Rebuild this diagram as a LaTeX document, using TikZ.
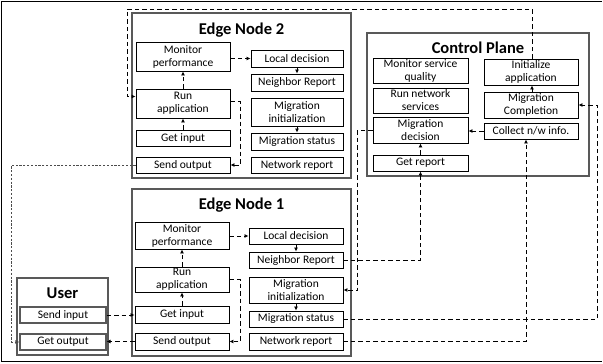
\documentclass[tikz,border=0pt]{standalone}
\usepackage{fontspec}
\setmainfont{Carlito}
\usetikzlibrary{arrows.meta}
\begin{document}
\begin{tikzpicture}[x=1pt,y=-1pt,
  container/.style={draw=black!65, line width=1.3pt},
  ucontainer/.style={draw=black!65, line width=1.3pt},
  box/.style={draw=black, line width=0.9pt, inner sep=0pt, align=center,
    font=\fontsize{11.5}{13}\selectfont},
  ubox/.style={box, draw=black!65, line width=1.1pt},
  ttl/.style={font=\fontsize{16.5}{18}\selectfont\bfseries, inner sep=0pt},
  flow/.style={line width=1pt, dash pattern=on 4.5pt off 3pt, -{Latex[length=4pt,width=4pt]}},
  thinflow/.style={line width=0.8pt, draw=black!70, dash pattern=on 2.2pt off 1.6pt, -{Latex[length=4pt,width=4pt]}}
]
\useasboundingbox (0,0) rectangle (603,364);
% outer frame (left, top, bottom)
\draw[line width=1pt] (602,1) -- (1,1) -- (1,361) -- (602,361);

% ===== Edge Node 2 =====
\node[container, minimum width=219pt, minimum height=165pt] (en2) at (241.5,95.5) {};
\node[ttl] (t2) at (241.5,30) {Edge Node 2};
\node[box, minimum width=94pt, minimum height=29pt] (mp2) at (183,56.5) {Monitor\\performance};
\node[box, minimum width=92pt, minimum height=17pt] (ld2) at (297,58.5) {Local decision};
\node[box, minimum width=92pt, minimum height=17pt] (nr2) at (297,82.5) {Neighbor Report};
\node[box, minimum width=94pt, minimum height=29pt] (ra2) at (183,103.5) {Run\\application};
\node[box, minimum width=92pt, minimum height=28pt] (mi2) at (297,112) {Migration\\initialization};
\node[box, minimum width=94pt, minimum height=16pt] (gi2) at (183,138) {Get input};
\node[box, minimum width=92pt, minimum height=17pt] (ms2) at (297,141.5) {Migration status};
\node[box, minimum width=94pt, minimum height=16pt] (so2) at (183,165) {Send output};
\node[box, minimum width=92pt, minimum height=16pt] (nw2) at (297,165) {Network report};

% ===== Edge Node 1 =====
\node[container, minimum width=219pt, minimum height=167pt] (en1) at (241.5,272.5) {};
\node[ttl] (t1) at (241.5,205) {Edge Node 1};
\node[box, minimum width=94pt, minimum height=27pt] (mp1) at (182,235.5) {Monitor\\performance};
\node[box, minimum width=94pt, minimum height=16pt] (ld1) at (296,236) {Local decision};
\node[box, minimum width=94pt, minimum height=16pt] (nr1) at (296,260) {Neighbor Report};
\node[box, minimum width=94pt, minimum height=25pt] (ra1) at (182,279.5) {Run\\application};
\node[box, minimum width=94pt, minimum height=26pt] (mi1) at (296,290) {Migration\\initialization};
\node[box, minimum width=94pt, minimum height=17pt] (gi1) at (182,314.5) {Get input};
\node[box, minimum width=94pt, minimum height=16pt] (ms1) at (296,319) {Migration status};
\node[box, minimum width=94pt, minimum height=17pt] (so1) at (182,341.5) {Send output};
\node[box, minimum width=94pt, minimum height=17pt] (nw1) at (296,341.5) {Network report};

% ===== User =====
\node[ucontainer, minimum width=91pt, minimum height=77pt] (usr) at (62.5,316.5) {};
\node[ttl] (tu) at (62.5,293) {User};
\node[ubox, minimum width=86pt, minimum height=16pt] (si) at (63,315) {Send input};
\node[ubox, minimum width=86pt, minimum height=16pt] (go) at (63,342) {Get output};

% ===== Control Plane =====
\node[container, minimum width=222pt, minimum height=143pt] (cp) at (478,104.5) {};
\node[ttl] (tc) at (478,48) {Control Plane};
\node[box, minimum width=95pt, minimum height=25pt] (msq) at (420.5,70.5) {Monitor service\\quality};
\node[box, minimum width=94pt, minimum height=26pt] (ia) at (531,72) {Initialize\\application};
\node[box, minimum width=95pt, minimum height=25pt] (rns) at (420.5,100.5) {Run network\\services};
\node[box, minimum width=94pt, minimum height=26pt] (mc) at (531,105) {Migration\\Completion};
\node[box, minimum width=95pt, minimum height=26pt] (md) at (420.5,130) {Migration\\decision};
\node[box, minimum width=94pt, minimum height=16pt] (cni) at (531,131) {Collect n/w info.};
\node[box, minimum width=95pt, minimum height=16pt] (gr) at (420.5,163) {Get report};

% ===== connectors: Edge Node 2 =====
\draw[flow] (mp2.east |- ld2.west) -- (ld2.west);
\draw[flow] (ld2.south) -- (nr2.north);
\draw[flow] (ra2.north) -- (mp2.south);
\draw[flow] (gi2.north) -- (ra2.south);
\draw[flow] (mi2.south) -- (ms2.north);
\draw[flow] ([yshift=2pt]ra2.east) -- ++(10,0) |- (so2.east);
\draw[thinflow] (so2.west) -- ++(-124,0) |- (go.west);
\draw[flow] ([xshift=1pt]ia.north) |- (127,9) |- ([yshift=7pt]ra2.west);

% ===== connectors: Edge Node 1 =====
\draw[flow] (mp1.east |- ld1.west) -- (ld1.west);
\draw[flow] (ld1.south) -- (nr1.north);
\draw[flow] (ra1.north) -- (mp1.south);
\draw[flow] (gi1.north) -- (ra1.south);
\draw[flow] (mi1.south) -- (ms1.north);
\draw[flow] (ra1.east) -- ++(11,0) |- (so1.east);
\draw[flow] (si.east) -- (si.east -| gi1.west);
\draw[flow] (so1.west) -- (so1.west -| go.east);

% ===== connectors: to / within Control Plane =====
\draw[flow] (nr1.east) -| (gr.south);
\draw[flow] (md.west) -- ++(-15,0) |- (mi1.east);
\draw[flow] (ms1.east) -- ++(254,0) |- (mc.east);
\draw[flow] (nw1.east) -| ([xshift=-5pt]cni.south);
\draw[flow] (cni.west) -- (cni.west -| md.east);
\draw[flow] (gr.north) -- (md.south);
\draw[flow] ([xshift=1pt]mc.north) -- ([xshift=1pt]ia.south);
\end{tikzpicture}
\end{document}
